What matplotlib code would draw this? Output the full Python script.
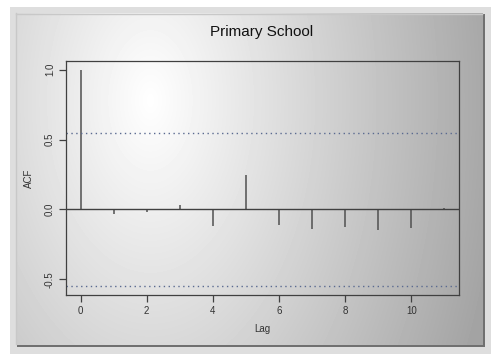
import numpy as np
import matplotlib.pyplot as plt
from matplotlib.patches import Rectangle

plt.rcParams['font.family'] = ['Liberation Sans', 'DejaVu Sans']

# autocorrelations
lags = [0, 1, 2, 3, 4, 5, 6, 7, 8, 9, 10, 11]
acf = [1.0, -0.03, -0.015, 0.035, -0.12, 0.245, -0.11, -0.14, -0.125, -0.15, -0.13, 0.007]
conf = 0.55
xticks = [0, 2, 4, 6, 8, 10]
yticks = [-0.5, 0.0, 0.5, 1.0]

W, H = 491, 354
fig = plt.figure(figsize=(W / 100, H / 100), dpi=100)
fig.patch.set_facecolor('white')

# background panel with grey gradient, brightest upper left of centre
bg = fig.add_axes([0, 0, 1, 1])
bg.axis('off')
bg.add_patch(Rectangle((10, 7), W - 10, H - 7, facecolor='#dedede', edgecolor='none', zorder=1))
bg.add_patch(Rectangle((17, 14), 468, 333, facecolor='#707070', edgecolor='none', zorder=2))
xx, yy = np.meshgrid(np.arange(16, 483), np.arange(13, 345))
d = np.hypot(xx - 150, (yy - 100) * 0.6)
grad = np.clip(1 - 0.00102 * d, 0.64, 1)
bg.imshow(grad, cmap='gray', vmin=0, vmax=1, extent=(16, 483, 345, 13),
          interpolation='bilinear', aspect='auto', zorder=3)
bg.plot([16, 482], [13.5, 13.5], color='#c8c8c8', lw=1, zorder=4)
bg.plot([16.5, 16.5], [13, 344], color='#c8c8c8', lw=1, zorder=4)
bg.set_xlim(0, W)
bg.set_ylim(H, 0)

ax = fig.add_axes([66 / W, (H - 295) / H, (459 - 66) / W, (295 - 61) / H])
ax.patch.set_alpha(0)
ax.vlines(lags, 0, acf, color='#505050', lw=1.1)
ax.axhline(0, color='#404040', lw=1)
ax.axhline(conf, color='#5a6a90', lw=1, ls=(0, (1, 2.5)))
ax.axhline(-conf, color='#5a6a90', lw=1, ls=(0, (1, 2.5)))

ax.set_xlim(-0.44, 11.44)
ax.set_ylim(-0.612, 1.062)
ax.set_xticks(xticks)
ax.set_yticks(yticks)
ax.set_xticklabels([str(v) for v in xticks])
ax.set_yticklabels(['-0.5', '0.0', '0.5', '1.0'], rotation=90, va='center')
ax.tick_params(length=5, width=0.9, color='#404040', labelsize=7, labelcolor='#333333', pad=3)

for s in ['top', 'right', 'left', 'bottom']:
    ax.spines[s].set_color('#404040')
    ax.spines[s].set_linewidth(0.9)

ax.set_xlabel('Lag', fontsize=7, color='#333333', labelpad=6)
ax.set_ylabel('ACF', fontsize=7, color='#333333', labelpad=8)
fig.text(262 / W, 1 - 32 / H, 'Primary School', fontsize=11, ha='center', va='center', color='#111111')

fig.savefig('out.png', dpi=100)
